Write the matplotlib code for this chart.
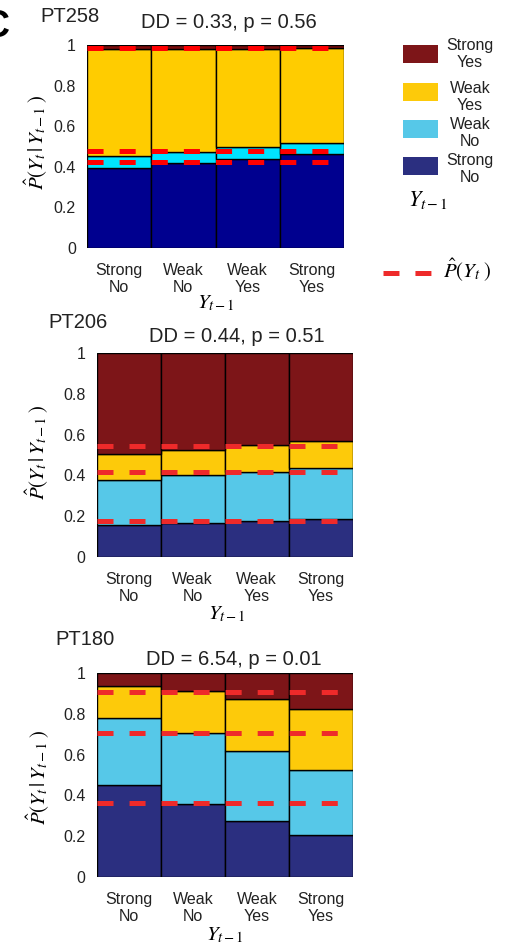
import matplotlib
matplotlib.use('Agg')
import matplotlib.pyplot as plt
from matplotlib.patches import Rectangle
from matplotlib.lines import Line2D
import numpy as np

plt.rcParams['font.family'] = ['Liberation Sans', 'DejaVu Sans']
plt.rcParams['mathtext.fontset'] = 'stix'
plt.rcParams['lines.scale_dashes'] = False

categories = ['Strong\nNo', 'Weak\nNo', 'Weak\nYes', 'Strong\nYes']
states = ['Strong No', 'Weak No', 'Weak Yes', 'Strong Yes']

# conditional probabilities P(Y_t | Y_t-1), one list per Y_t state, per column of Y_t-1
pt258_strong_no = [0.395, 0.419, 0.440, 0.463]
pt258_weak_no = [0.058, 0.055, 0.058, 0.054]
pt258_weak_yes = [0.529, 0.508, 0.484, 0.467]
pt258_strong_yes = [0.018, 0.018, 0.018, 0.016]
pt258_marginal = [0.425, 0.055, 0.505, 0.015]

pt206_strong_no = [0.154, 0.164, 0.174, 0.187]
pt206_weak_no = [0.223, 0.236, 0.244, 0.247]
pt206_weak_yes = [0.130, 0.126, 0.131, 0.135]
pt206_strong_yes = [0.493, 0.474, 0.451, 0.431]
pt206_marginal = [0.174, 0.241, 0.128, 0.457]

pt180_strong_no = [0.449, 0.357, 0.274, 0.203]
pt180_weak_no = [0.330, 0.350, 0.346, 0.322]
pt180_weak_yes = [0.159, 0.204, 0.255, 0.301]
pt180_strong_yes = [0.062, 0.089, 0.125, 0.174]
pt180_marginal = [0.361, 0.346, 0.200, 0.093]

names = ['PT258', 'PT206', 'PT180']
stats = ['DD = 0.33, p = 0.56', 'DD = 0.44, p = 0.51', 'DD = 6.54, p = 0.01']

panels = [
    [pt258_strong_no, pt258_weak_no, pt258_weak_yes, pt258_strong_yes],
    [pt206_strong_no, pt206_weak_no, pt206_weak_yes, pt206_strong_yes],
    [pt180_strong_no, pt180_weak_no, pt180_weak_yes, pt180_strong_yes],
]
marginals = [pt258_marginal, pt206_marginal, pt180_marginal]

# first panel uses saturated colours, the other two the softer ones
colors_bright = ['#00008f', '#00e3ff', '#ffcc00', '#7a0c0c']
colors_soft = ['#2b2f80', '#56c8e8', '#fdca0a', '#7d1518']
dash_colors = ['#ff0000', '#ee2a2a', '#ee2a2a']

# invisible stack to make \left( \right) grow tall
strut = r'\genfrac{}{}{0}{1}{\,}{\,}'
ylab = r'$\hat{P}\left(Y_t\,|\,Y_{t-1}' + strut + r'\right)$'
plab = r'$\hat{P}\left(Y_t' + strut + r'\right)$'

W, H = 507, 946
fig = plt.figure(figsize=(W / 100, H / 100), dpi=100)

# axes boxes in pixels: left, top, right, bottom
boxes = [(87, 45, 344, 248), (96.7, 353.3, 352.7, 556.7), (96.7, 673.3, 353, 876.7)]
name_pos = [(-0.183, 1.138), (-0.19, 1.151), (-0.163, 1.166)]
stat_pos = [(0.553, 1.113), (0.548, 1.082), (0.536, 1.067)]
ylab_pos = [(-0.20, 0.52), (-0.233, 0.516), (-0.23, 0.49)]
xlab_pos = [(0.50, -0.27), (0.51, -0.28), (0.50, -0.285)]

x = np.arange(len(categories))
for i in range(3):
    l, t, r, b = boxes[i]
    ax = fig.add_axes([l / W, 1 - b / H, (r - l) / W, (b - t) / H])
    cols = colors_bright if i == 0 else colors_soft
    bottom = np.zeros(len(categories))
    for k, vals in enumerate(panels[i]):
        ax.bar(x, vals, width=1.0, bottom=bottom, color=cols[k],
               edgecolor='black', linewidth=1.0, zorder=2)
        bottom += np.array(vals)

    # marginal P(Y_t) as dashed lines
    dash_pts = (r - l) / 16 * 0.72
    for c in np.cumsum(marginals[i])[:3]:
        ax.axhline(c, color=dash_colors[i], linewidth=3.6,
                   dashes=(dash_pts, dash_pts), zorder=3)

    ax.set_xlim(-0.5, 3.5)
    ax.set_ylim(0, 1)
    ax.set_yticks([0, 0.2, 0.4, 0.6, 0.8, 1])
    ax.set_yticklabels(['0', '0.2', '0.4', '0.6', '0.8', '1'])
    ax.set_xticks(x)
    ax.set_xticklabels(categories, linespacing=1.15)
    ax.tick_params(length=0, labelsize=11.5, labelcolor='#222222')
    ax.tick_params(axis='x', pad=11)
    ax.tick_params(axis='y', pad=8)
    for s in ax.spines.values():
        s.set_visible(False)

    ax.text(name_pos[i][0], name_pos[i][1], names[i], transform=ax.transAxes,
            fontsize=14.5, ha='left', va='center', color='#222222')
    ax.text(stat_pos[i][0], stat_pos[i][1], stats[i], transform=ax.transAxes,
            fontsize=14.5, ha='center', va='center', color='#222222')
    ax.text(ylab_pos[i][0], ylab_pos[i][1], ylab, transform=ax.transAxes,
            fontsize=15, rotation=90, ha='center', va='center')
    ax.text(xlab_pos[i][0], xlab_pos[i][1], r'$Y_{t-1}$', transform=ax.transAxes,
            fontsize=15, ha='center', va='center')

# panel letter, mostly cut off at the left edge
fig.text(9 / W, 1 - 27 / H, 'C', fontsize=27, fontweight='bold', ha='right', va='center')

# legend drawn in pixel coordinates
leg = fig.add_axes([0, 0, 1, 1])
leg.set_xlim(0, W)
leg.set_ylim(H, 0)
leg.axis('off')
leg_tops = [45, 83, 120, 157]
leg_text_y = [54, 97, 133, 169]
leg_labels = ['Strong\nYes', 'Weak\nYes', 'Weak\nNo', 'Strong\nNo']
for j in range(4):
    leg.add_patch(Rectangle((403, leg_tops[j]), 35, 18, facecolor=colors_soft[3 - j],
                            edgecolor='none'))
    leg.text(470, leg_text_y[j], leg_labels[j], fontsize=11.5, ha='center',
             va='center', linespacing=1.15, color='#222222')
leg.text(428, 200, r'$Y_{t-1}$', fontsize=16, ha='center', va='center')
leg.add_line(Line2D([383, 432], [273, 273], color='#ee2a2a', linewidth=3.6,
                    dashes=(11.5, 11.5)))
leg.text(467, 270, plab, fontsize=15, ha='center', va='center')

fig.savefig('out.png', dpi=100)
